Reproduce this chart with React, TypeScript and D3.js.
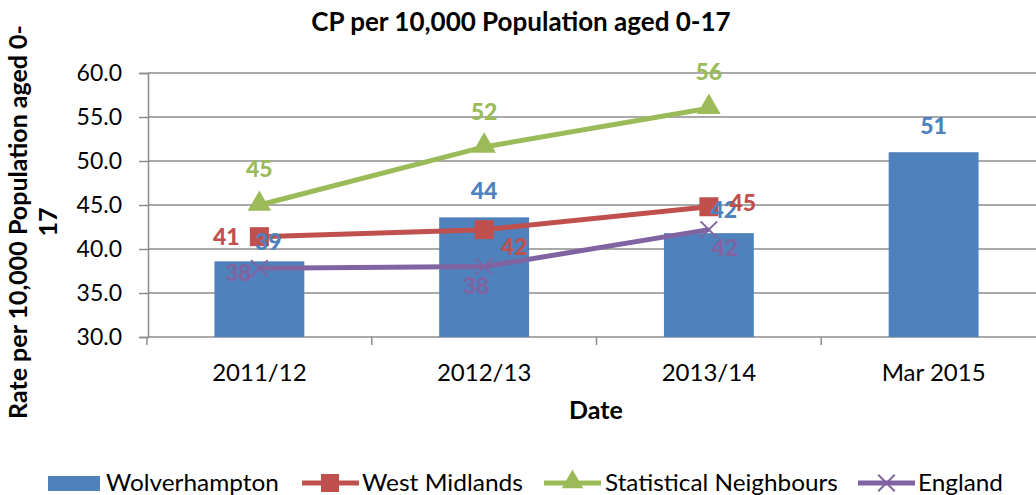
import { useRef, useEffect } from 'react';
import * as d3 from 'd3';

const categories = ['2011/12', '2012/13', '2013/14', 'Mar 2015'];
const wolverhampton = [38.6, 43.6, 41.8, 51.0];
const westMidlands = [41.4, 42.2, 44.8];
const statNeighbours = [45.0, 51.6, 56.0];
const england = [37.8, 38.0, 42.2];
const yTicks = [30, 35, 40, 45, 50, 55, 60];
const legendNames = ['Wolverhampton', 'West Midlands', 'Statistical Neighbours', 'England'];

const BLUE = '#4F81BD';
const RED = '#C0504D';
const GREEN = '#9BBB59';
const PURPLE = '#8064A2';

// label offsets relative to each point (dx, dy), like Excel placed them
const barLabelPos = [[9, -20], [0, -27], [15, -23], [0, -26]];
const wmLabelPos = [[-33, 0], [30, 17], [34, -4]];
const snLabelPos = [[0, -36], [0, -35], [0, -36]];
const engLabelPos = [[-21, 4], [-8, 19], [16, 18]];

export default function App() {
  const svgRef = useRef<SVGSVGElement>(null);
  const width = 1036;
  const height = 495;

  useEffect(() => {
    const svg = d3.select(svgRef.current);
    svg.selectAll('*').remove();
    const font = 'Lato, "Open Sans", sans-serif';
    svg.style('font-family', font);

    const margin = { top: 73, right: -10, bottom: 158, left: 148 };

    const x = d3
      .scaleBand()
      .domain(categories)
      .range([margin.left - 1, width - margin.right])
      .paddingInner(0.6)
      .paddingOuter(0.3);

    const y = d3
      .scaleLinear()
      .domain([30, 60])
      .range([height - margin.bottom, margin.top]);

    const cx = (i: number) => (x(categories[i]) as number) + x.bandwidth() / 2;

    // gridlines
    svg
      .append('g')
      .selectAll('line')
      .data(yTicks.slice(1))
      .join('line')
      .attr('x1', margin.left)
      .attr('x2', width)
      .attr('y1', (d) => y(d))
      .attr('y2', (d) => y(d))
      .attr('stroke', '#8c8c8c')
      .attr('stroke-width', 1.5);

    // y axis
    const yAxis = svg
      .append('g')
      .attr('transform', `translate(${margin.left},0)`)
      .call(
        d3
          .axisLeft(y)
          .tickValues(yTicks)
          .tickFormat((d) => d3.format('.1f')(d as number))
          .tickSize(9)
          .tickPadding(17)
      );
    yAxis.selectAll('path, line').attr('stroke', '#8c8c8c').attr('stroke-width', 1.5);
    yAxis
      .selectAll('text')
      .attr('fill', '#000')
      .style('font-size', '23px')
      .style('font-family', font);

    // x axis
    const xAxis = svg
      .append('g')
      .attr('transform', `translate(0,${y(30)})`);
    xAxis
      .append('line')
      .attr('x1', margin.left)
      .attr('x2', width)
      .attr('stroke', '#8c8c8c')
      .attr('stroke-width', 1.5);
    const step = x.step();
    xAxis
      .selectAll('line.tk')
      .data(d3.range(categories.length + 1))
      .join('line')
      .attr('class', 'tk')
      .attr('x1', (i) => margin.left - 1 + i * step)
      .attr('x2', (i) => margin.left - 1 + i * step)
      .attr('y1', 0)
      .attr('y2', 8)
      .attr('stroke', '#8c8c8c')
      .attr('stroke-width', 1.5);
    xAxis
      .selectAll('text')
      .data(categories)
      .join('text')
      .attr('x', (d, i) => cx(i))
      .attr('y', 44)
      .attr('text-anchor', 'middle')
      .style('font-size', '24px')
      .text((d) => d);

    // bars
    svg
      .append('g')
      .selectAll('rect')
      .data(wolverhampton)
      .join('rect')
      .attr('x', (d, i) => x(categories[i]) as number)
      .attr('y', (d) => y(d))
      .attr('width', x.bandwidth())
      .attr('height', (d) => y(30) - y(d))
      .attr('fill', BLUE);

    const line = d3
      .line<number>()
      .x((d, i) => cx(i))
      .y((d) => y(d));

    const drawSeries = (data: number[], color: string) => {
      svg
        .append('path')
        .datum(data)
        .attr('fill', 'none')
        .attr('stroke', color)
        .attr('stroke-width', 5)
        .attr('d', line);
    };
    drawSeries(westMidlands, RED);
    drawSeries(statNeighbours, GREEN);
    drawSeries(england, PURPLE);

    // markers
    svg
      .append('g')
      .selectAll('rect')
      .data(westMidlands)
      .join('rect')
      .attr('x', (d, i) => cx(i) - 9.5)
      .attr('y', (d) => y(d) - 9.5)
      .attr('width', 19)
      .attr('height', 19)
      .attr('fill', RED);

    const tri = d3.symbol().type(d3.symbolTriangle).size(240);
    svg
      .append('g')
      .selectAll('path')
      .data(statNeighbours)
      .join('path')
      .attr('transform', (d, i) => `translate(${cx(i)},${y(d) - 1})`)
      .attr('d', tri)
      .attr('fill', GREEN);

    const cross = d3.symbol().type(d3.symbolX).size(180);
    svg
      .append('g')
      .selectAll('path')
      .data(england)
      .join('path')
      .attr('transform', (d, i) => `translate(${cx(i)},${y(d)})`)
      .attr('d', cross)
      .attr('fill', 'none')
      .attr('stroke', PURPLE)
      .attr('stroke-width', 2);

    // data labels
    const labels = (data: number[], pos: number[][], color: string) => {
      svg
        .append('g')
        .selectAll('text')
        .data(data)
        .join('text')
        .attr('x', (d, i) => cx(i) + pos[i][0])
        .attr('y', (d, i) => y(d) + pos[i][1])
        .attr('dy', '0.36em')
        .attr('text-anchor', 'middle')
        .attr('fill', color)
        .style('font-size', '23px')
        .style('font-weight', 900)
        .text((d) => Math.round(d));
    };
    labels(wolverhampton, barLabelPos, BLUE);
    labels(westMidlands, wmLabelPos, RED);
    labels(statNeighbours, snLabelPos, GREEN);
    labels(england, engLabelPos, PURPLE);

    // titles
    svg
      .append('text')
      .attr('x', 521)
      .attr('y', 31)
      .attr('text-anchor', 'middle')
      .style('font-size', '26px')
      .style('font-weight', 700)
      .text('CP per 10,000 Population aged 0-17');

    svg
      .append('text')
      .attr('x', 596)
      .attr('y', 419)
      .attr('text-anchor', 'middle')
      .style('font-size', '25px')
      .style('font-weight', 700)
      .text('Date');

    const yTitle = svg
      .append('text')
      .attr('transform', 'translate(27,222) rotate(-90)')
      .attr('text-anchor', 'middle')
      .style('font-size', '25px')
      .style('font-weight', 700);
    yTitle.append('tspan').attr('x', 0).attr('dy', 0).text('Rate per 10,000 Population aged 0-');
    yTitle.append('tspan').attr('x', 0).attr('dy', 30).text('17');

    // legend
    const legend = svg.append('g').attr('transform', 'translate(0,483)');
    const items = [
      { color: BLUE, x: 48, tx: 106, tw: 173, kind: 'bar' },
      { color: RED, x: 302, tx: 362, tw: 161, kind: 'square' },
      { color: GREEN, x: 544, tx: 605, tw: 233, kind: 'tri' },
      { color: PURPLE, x: 858, tx: 918, tw: 85, kind: 'x' },
    ];
    items.forEach((it, i) => {
      const g = legend.append('g').attr('transform', `translate(${it.x},0)`);
      if (it.kind === 'bar') {
        g.append('rect').attr('x', 0).attr('y', -7).attr('width', 52).attr('height', 15).attr('fill', it.color);
      } else {
        g.append('line').attr('x1', 0).attr('x2', 57).attr('stroke', it.color).attr('stroke-width', 5);
        if (it.kind === 'square') {
          g.append('rect').attr('x', 19).attr('y', -9).attr('width', 18).attr('height', 18).attr('fill', it.color);
        } else if (it.kind === 'tri') {
          g.append('path').attr('transform', 'translate(28.5,-1)').attr('d', d3.symbol().type(d3.symbolTriangle).size(200)()).attr('fill', it.color);
        } else {
          g.append('path').attr('transform', 'translate(28.5,0)').attr('d', d3.symbol().type(d3.symbolX).size(180)()).attr('fill', 'none').attr('stroke', it.color).attr('stroke-width', 2);
        }
      }
      const tg = legend.append('g');
      const t = tg
        .append('text')
        .attr('x', 0)
        .attr('y', 8)
        .style('font-size', '24px')
        .text(legendNames[i]);
      const natural = (t.node() as SVGTextElement).getComputedTextLength() || it.tw;
      tg.attr('transform', `translate(${it.tx},0) scale(${it.tw / natural},1)`);
    });
  }, []);

  return (
    <svg
      ref={svgRef}
      width={width}
      height={height}
      style={{ position: 'absolute', left: 0, top: 0, background: '#fff' }}
    ></svg>
  );
}
